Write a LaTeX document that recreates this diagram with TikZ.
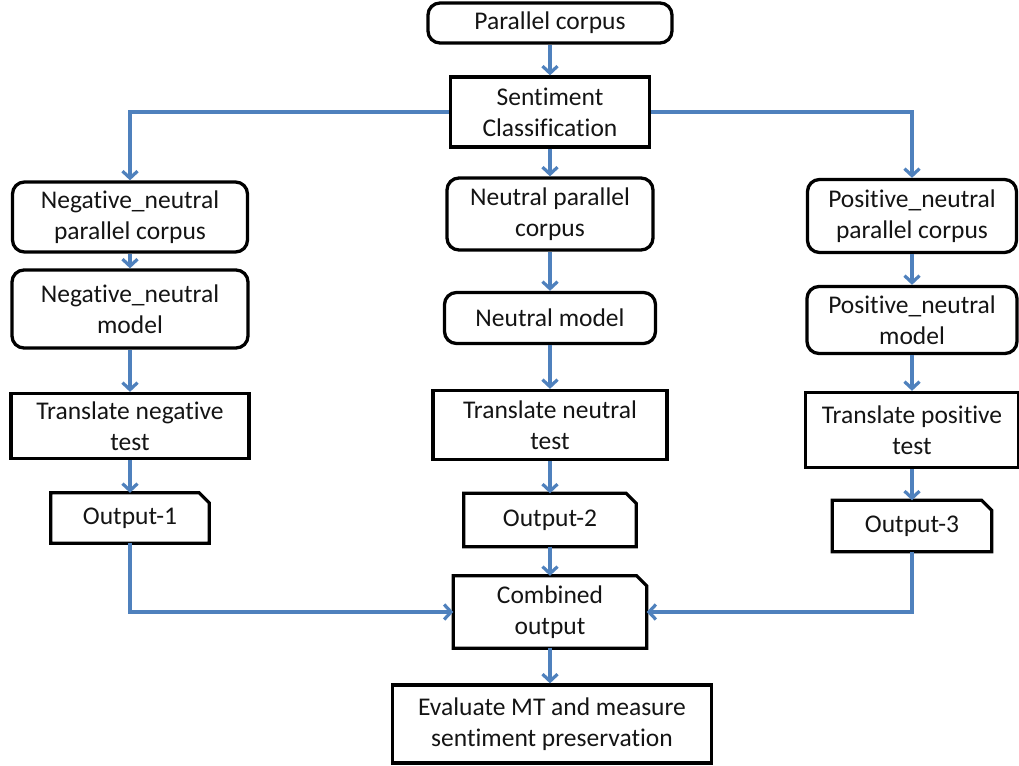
\documentclass[tikz,border=0pt]{standalone}
\usepackage{fontspec}
\setmainfont{Carlito}[Ligatures=NoCommon]
\usetikzlibrary{arrows.meta}
\definecolor{flow}{HTML}{4F81BD}
\definecolor{ink}{HTML}{141414}
\newcommand\snipframe[1]{%
  \draw[boxline] (#1.south west) -- (#1.north west) -- ([xshift=-10pt]#1.north east)
    -- ([yshift=-10pt]#1.north east) -- (#1.south east) -- cycle;}
\begin{document}
\begin{tikzpicture}[x=1pt,y=-1pt,
  every node/.style={font=\fontsize{25.5}{31}\selectfont, text=ink, align=center, inner sep=0pt},
  boxline/.style={draw=black, line width=3.3pt, line join=miter},
  roundbox/.style={boxline, rounded corners=12pt},
  plainbox/.style={boxline},
  snipbox/.style={},
  link/.style={draw=flow, line width=3.2pt, -{Straight Barb[length=7pt,width=15pt]}},
]
\useasboundingbox (0,0) rectangle (1019,765);

% top of the flow
\node[roundbox, minimum width=244pt, minimum height=40pt] (pc) at (550,23) {Parallel corpus};
\node[plainbox, minimum width=199pt, minimum height=70pt] (sc) at (550,112) {Sentiment\\Classification};

% negative branch
\node[roundbox, minimum width=235pt, minimum height=70pt] (neg1) at (130,217) {Negative\_neutral\\parallel corpus};
\node[roundbox, minimum width=236pt, minimum height=78pt] (neg2) at (130,309) {Negative\_neutral\\model};
\node[plainbox, minimum width=238pt, minimum height=65pt] (neg3) at (130,426) {Translate negative\\test};
\node[snipbox, minimum width=158pt, minimum height=50pt] (o1) at (130,518) {Output-1};
\snipframe{o1}

% neutral branch
\node[roundbox, minimum width=206pt, minimum height=72pt] (neu1) at (550,214) {Neutral parallel\\corpus};
\node[roundbox, minimum width=211pt, minimum height=51pt] (neu2) at (550,318) {Neutral model};
\node[plainbox, minimum width=234pt, minimum height=69pt] (neu3) at (550,425) {Translate neutral\\test};
\node[snipbox, minimum width=172pt, minimum height=53pt] (o2) at (550,520) {Output-2};
\snipframe{o2}

% positive branch
\node[roundbox, minimum width=209pt, minimum height=73pt] (pos1) at (912,216) {Positive\_neutral\\parallel corpus};
\node[roundbox, minimum width=210pt, minimum height=67pt] (pos2) at (912,320) {Positive\_neutral\\model};
\node[plainbox, minimum width=213pt, minimum height=75pt] (pos3) at (912,430) {Translate positive\\test};
\node[snipbox, minimum width=159pt, minimum height=51pt] (o3) at (912,526) {Output-3};
\snipframe{o3}

% merge and evaluation
\node[snipbox, minimum width=193pt, minimum height=72pt] (comb) at (550,612) {Combined\\output};
\snipframe{comb}
\node[plainbox, minimum width=319pt, minimum height=78pt] (eval) at (552,724) {Evaluate MT and measure\\sentiment preservation};

% connectors
\draw[link] (pc) -- (sc);
\draw[link] (sc.west) -| (neg1.north);
\draw[link] (sc) -- (neu1);
\draw[link] (sc.east) -| (pos1.north);

\draw[link] (neg1) -- (neg2);
\draw[link] (neg2) -- (neg3);
\draw[link] (neg3) -- (o1);

\draw[link] (neu1) -- (neu2);
\draw[link] (neu2) -- (neu3);
\draw[link] (neu3) -- (o2);

\draw[link] (pos1) -- (pos2);
\draw[link] (pos2) -- (pos3);
\draw[link] (pos3) -- (o3);

\draw[link] (o1.south) |- (comb.west);
\draw[link] (o2) -- (comb);
\draw[link] (o3.south) |- (comb.east);
\draw[link] (comb.south) -- (eval.north -| comb.south);
\end{tikzpicture}
\end{document}
